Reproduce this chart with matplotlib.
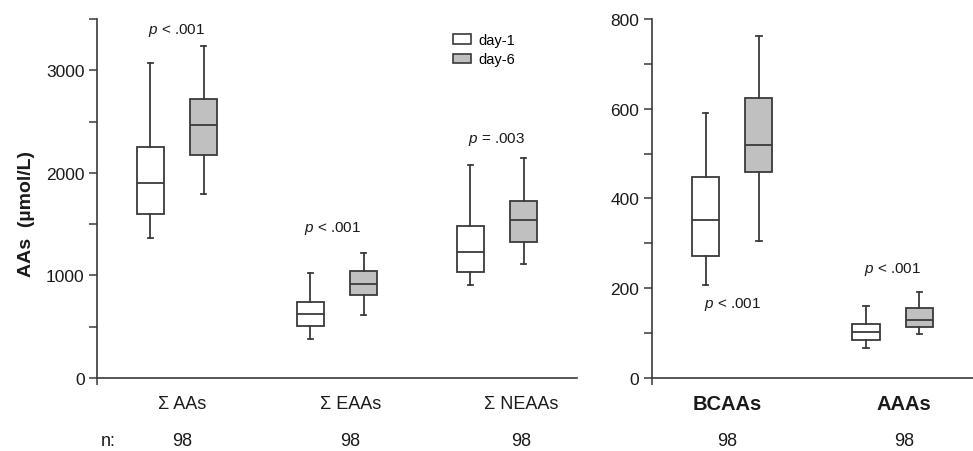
import matplotlib
matplotlib.use("Agg")
import matplotlib.pyplot as plt
from matplotlib.patches import Patch

plt.rcParams["font.family"] = ["Liberation Sans", "DejaVu Sans"]
plt.rcParams["mathtext.fontset"] = "custom"
plt.rcParams["mathtext.it"] = "Liberation Sans:italic"
plt.rcParams["mathtext.rm"] = "Liberation Sans"

# data
left_groups = ["Σ AAs", "Σ EAAs", "Σ NEAAs"]
left_n = ["98", "98", "98"]
left_p = [r"$p$ < .001", r"$p$ < .001", r"$p$ = .003"]
left_p_y = [3400, 1470, 2335]

left_day1_lo = [1363, 380, 908]
left_day1_q1 = [1597, 509, 1035]
left_day1_med = [1902, 620, 1233]
left_day1_q3 = [2252, 743, 1480]
left_day1_hi = [3070, 1022, 2077]

left_day6_lo = [1798, 616, 1110]
left_day6_q1 = [2177, 814, 1327]
left_day6_med = [2470, 915, 1538]
left_day6_q3 = [2717, 1042, 1723]
left_day6_hi = [3238, 1220, 2149]

right_groups = ["BCAAs", "AAAs"]
right_n = ["98", "98"]
right_p = [r"$p$ < .001", r"$p$ < .001"]
right_p_y = [166, 245]

right_day1_lo = [208, 67]
right_day1_q1 = [272, 85]
right_day1_med = [351, 103]
right_day1_q3 = [448, 120]
right_day1_hi = [591, 160]

right_day6_lo = [306, 97]
right_day6_q1 = [460, 114]
right_day6_med = [520, 129]
right_day6_q3 = [624, 155]
right_day6_hi = [762, 192]

EDGE = "#3a3a3a"
GRAY = "#c0c0c0"
TXT = "#1a1a1a"


def make_stats(lo, q1, med, q3, hi):
    return [dict(whislo=a, q1=b, med=c, q3=d, whishi=e, fliers=[])
            for a, b, c, d, e in zip(lo, q1, med, q3, hi)]


def draw_boxes(ax, stats, positions, fill):
    ax.bxp(stats, positions=positions, widths=0.17, capwidths=0.035,
           patch_artist=True, showfliers=False, manage_ticks=False,
           boxprops=dict(facecolor=fill, edgecolor=EDGE, linewidth=1.3),
           medianprops=dict(color=EDGE, linewidth=1.3),
           whiskerprops=dict(color=EDGE, linewidth=1.3),
           capprops=dict(color=EDGE, linewidth=1.3))


def style_axis(ax):
    for s in ["top", "right"]:
        ax.spines[s].set_visible(False)
    for s in ["left", "bottom"]:
        ax.spines[s].set_color(EDGE)
        ax.spines[s].set_linewidth(1.2)
    ax.tick_params(axis="y", which="both", direction="out", length=6,
                   width=1.1, color=EDGE, labelsize=12.5, labelcolor=TXT, pad=3)
    ax.set_xticks([])
    ax.set_xticks([ax.get_xlim()[0]], minor=True)
    ax.tick_params(axis="x", which="minor", direction="out", length=5,
                   width=1.1, color=EDGE, labelbottom=False)


fig = plt.figure(figsize=(9.73, 4.52), dpi=100)
ax1 = fig.add_axes([0.0997, 0.1615, 0.4933, 0.7943])
ax2 = fig.add_axes([0.670, 0.1615, 0.330, 0.7943])

off = 0.166

# left panel
pos = [i + 1 for i in range(len(left_groups))]
draw_boxes(ax1, make_stats(left_day1_lo, left_day1_q1, left_day1_med, left_day1_q3, left_day1_hi),
           [p - off for p in pos], "white")
draw_boxes(ax1, make_stats(left_day6_lo, left_day6_q1, left_day6_med, left_day6_q3, left_day6_hi),
           [p + off for p in pos], GRAY)
ax1.set_xlim(0.5, 3.5)
ax1.set_ylim(0, 3500)
ax1.set_yticks([0, 1000, 2000, 3000])
ax1.set_yticks([500, 1500, 2500, 3500], minor=True)
style_axis(ax1)
ax1.set_ylabel("AAs  (µmol/L)", fontsize=14, fontweight="bold", color=TXT)
ax1.yaxis.set_label_coords(-0.13, 0.46)

left_label_shift = [0.035, 0.085, 0.15]
left_n_shift = [0.03, 0.085, 0.15]
tr = ax1.get_xaxis_transform()
for i, g in enumerate(left_groups):
    ax1.text(pos[i] + left_label_shift[i], -0.07, g, transform=tr, ha="center",
             va="center", fontsize=13, color=TXT)
    ax1.text(pos[i] + left_n_shift[i], -0.175, left_n[i], transform=tr, ha="center",
             va="center", fontsize=13, color=TXT)
    ax1.text(pos[i] - (0.03 if i == 1 else 0), left_p_y[i], left_p[i], ha="center",
             va="center", fontsize=11, color=TXT)
ax1.text(0.023, -0.175, "n:", transform=ax1.transAxes, ha="center", va="center",
         fontsize=13, color=TXT)

handles = [Patch(facecolor="white", edgecolor=EDGE, linewidth=1.2, label="day-1"),
           Patch(facecolor=GRAY, edgecolor=EDGE, linewidth=1.2, label="day-6")]
ax1.legend(handles=handles, loc="upper left", bbox_to_anchor=(0.742, 0.96),
           frameon=False, fontsize=10.5, handlelength=1.25, handleheight=0.62,
           handletextpad=0.5, labelspacing=0.35, borderpad=0, borderaxespad=0)

# right panel
pos2 = [i + 1 for i in range(len(right_groups))]
draw_boxes(ax2, make_stats(right_day1_lo, right_day1_q1, right_day1_med, right_day1_q3, right_day1_hi),
           [p - off for p in pos2], "white")
draw_boxes(ax2, make_stats(right_day6_lo, right_day6_q1, right_day6_med, right_day6_q3, right_day6_hi),
           [p + off for p in pos2], GRAY)
ax2.set_xlim(0.5, 2.5)
ax2.set_ylim(0, 800)
ax2.set_yticks([0, 200, 400, 600, 800])
ax2.set_yticks([100, 300, 500, 700], minor=True)
style_axis(ax2)

right_shift = [-0.03, 0.07]
tr2 = ax2.get_xaxis_transform()
for i, g in enumerate(right_groups):
    ax2.text(pos2[i] + right_shift[i], -0.07, g, transform=tr2, ha="center",
             va="center", fontsize=14.5, fontweight="bold", color=TXT)
    ax2.text(pos2[i] + right_shift[i], -0.175, right_n[i], transform=tr2, ha="center",
             va="center", fontsize=13, color=TXT)
    ax2.text(pos2[i], right_p_y[i], right_p[i], ha="center", va="center",
             fontsize=11, color=TXT)

fig.savefig("out.png", dpi=100)
